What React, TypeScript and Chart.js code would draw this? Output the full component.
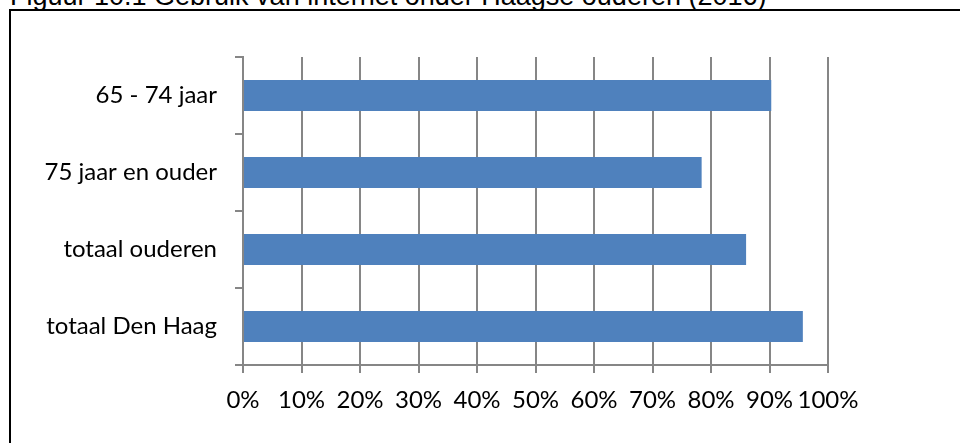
import React, { useEffect, useRef } from "react";
import { Chart, registerables } from "chart.js";

Chart.register(...registerables);

const titleText = "Figuur 10.1 Gebruik van internet onder Haagse ouderen (2016)";
const categories = ["65 - 74 jaar", "75 jaar en ouder", "totaal ouderen", "totaal Den Haag"];
const values = [90.3, 78.4, 86.0, 95.7];
const xTicks = [0, 10, 20, 30, 40, 50, 60, 70, 80, 90, 100];

const FONT = "Lato, 'Open Sans', sans-serif";

export default function App() {
  const ref = useRef<HTMLCanvasElement | null>(null);

  useEffect(() => {
    if (!ref.current) return;
    const chart = new Chart(ref.current, {
      type: "bar",
      data: {
        labels: categories,
        datasets: [
          {
            data: values,
            backgroundColor: "#4F81BD",
            borderWidth: 0,
            barPercentage: 0.4,
            categoryPercentage: 1,
          },
        ],
      },
      options: {
        indexAxis: "y",
        responsive: false,
        animation: false,
        devicePixelRatio: 1,
        layout: { padding: { top: 57, right: 132, left: 0, bottom: 0 } },
        plugins: {
          legend: { display: false },
          tooltip: { enabled: false },
          title: { display: false },
        },
        scales: {
          x: {
            type: "linear",
            min: 0,
            max: 100,
            afterBuildTicks: (scale: any) => {
              scale.ticks = xTicks.map((v) => ({ value: v }));
            },
            afterFit: (scale: any) => {
              scale.height = 78;
            },
            ticks: {
              callback: (v: any) => v + "%",
              color: "#000",
              font: { family: FONT, size: 24 },
              padding: 13,
              maxRotation: 0,
              autoSkip: false,
            },
            grid: {
              color: "#868686",
              lineWidth: 2,
              tickLength: 8,
              drawOnChartArea: true,
            },
            border: { display: true, color: "#868686", width: 2 },
          },
          y: {
            type: "category",
            afterFit: (scale: any) => {
              scale.width = 243;
            },
            ticks: {
              color: "#000",
              font: { family: FONT, size: 24 },
              padding: 18,
            },
            grid: {
              offset: true,
              drawOnChartArea: false,
              color: "#868686",
              lineWidth: 2,
              tickLength: 8,
            },
            border: { display: true, color: "#868686", width: 2 },
          },
        },
      },
    });
    return () => chart.destroy();
  }, []);

  return (
    <div
      style={{
        position: "fixed",
        left: 0,
        top: 0,
        width: 960,
        height: 443,
        overflow: "hidden",
        background: "#fff",
      }}
    >
      <div
        style={{
          position: "absolute",
          left: 9,
          top: 9,
          width: 1000,
          height: 500,
          borderTop: "2px solid #000",
          borderLeft: "2px solid #000",
        }}
      />
      <div
        style={{
          position: "absolute",
          left: 10,
          top: -19,
          fontFamily: "'Liberation Sans', Arial, sans-serif",
          fontSize: 27,
          lineHeight: "30px",
          whiteSpace: "nowrap",
          color: "#000",
        }}
      >
        {titleText}
      </div>
      <canvas
        ref={ref}
        width={960}
        height={443}
        style={{ position: "absolute", left: 0, top: 0, width: 960, height: 443 }}
      />
    </div>
  );
}
